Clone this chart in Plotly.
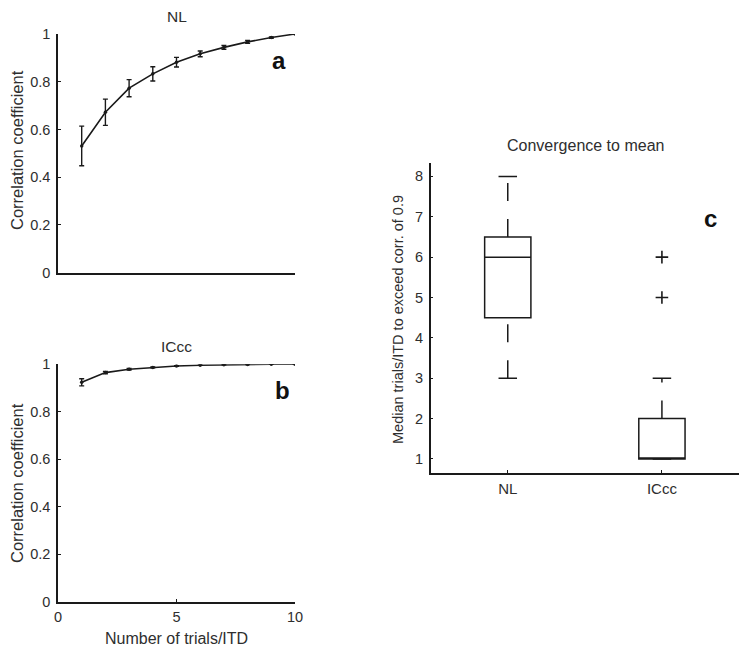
import plotly.graph_objects as go

# ---- data ----
trials = [1, 2, 3, 4, 5, 6, 7, 8, 9, 10]
nl_mean = [0.531, 0.672, 0.773, 0.833, 0.882, 0.917, 0.944, 0.967, 0.985, 1.0]
nl_err = [0.083, 0.055, 0.036, 0.030, 0.020, 0.012, 0.008, 0.006, 0.003, 0.0]
iccc_mean = [0.924, 0.965, 0.979, 0.987, 0.993, 0.996, 0.998, 0.999, 1.0, 1.0]
iccc_err = [0.015, 0.005, 0.003, 0.002, 0.001, 0.0, 0.0, 0.0, 0.0, 0.0]

corr_ticks = [0, 0.2, 0.4, 0.6, 0.8, 1]
corr_ticktext = ["0", "0.2", "0.4", "0.6", "0.8", "1"]
trial_ticks = [0, 5, 10]

box_cats = ["NL", "ICcc"]
box_pos = [1, 2]
box_q1 = [4.5, 1.0]
box_med = [6.0, 1.0]
box_q3 = [6.5, 2.0]
box_lo = [3.0, 1.0]
box_hi = [8.0, 3.0]
outlier_cat = [2, 2]
outlier_val = [5.0, 6.0]
median_ticks = [1, 2, 3, 4, 5, 6, 7, 8]

FONT = "Liberation Sans, Arial, Helvetica, sans-serif"
TXT = "#2e2e2e"
LINE = "#1a1a1a"
W, H = 750, 650


def px_x(p):
    return p / W


def px_y(p):
    return 1 - p / H


fig = go.Figure()

# panel a
fig.add_trace(go.Scatter(
    x=trials, y=nl_mean, mode="lines+markers",
    line=dict(color=LINE, width=1.6), marker=dict(size=3.5, color=LINE),
    error_y=dict(type="data", array=nl_err, color=LINE, thickness=1.4, width=2.5),
    xaxis="x", yaxis="y", showlegend=False))

# panel b
fig.add_trace(go.Scatter(
    x=trials, y=iccc_mean, mode="lines+markers",
    line=dict(color=LINE, width=1.6), marker=dict(size=3.5, color=LINE),
    error_y=dict(type="data", array=iccc_err, color=LINE, thickness=1.4, width=2.5),
    xaxis="x2", yaxis="y2", showlegend=False))

# panel c: boxes (quartiles + median), whiskers drawn dashed separately
for i in range(len(box_cats)):
    fig.add_trace(go.Box(
        x=[box_pos[i]], q1=[box_q1[i]], median=[box_med[i]], q3=[box_q3[i]],
        lowerfence=[box_q1[i]], upperfence=[box_q3[i]],
        width=0.3, whiskerwidth=0, boxpoints=False,
        line=dict(color=LINE, width=1.5), fillcolor="rgba(0,0,0,0)",
        xaxis="x3", yaxis="y3", showlegend=False, hoverinfo="skip"))
    fig.add_trace(go.Scatter(
        x=[box_pos[i], box_pos[i]], y=[box_lo[i], box_q1[i]], mode="lines",
        line=dict(color=LINE, width=1.5, dash="18px,18px"),
        xaxis="x3", yaxis="y3", showlegend=False, hoverinfo="skip"))
    fig.add_trace(go.Scatter(
        x=[box_pos[i], box_pos[i]], y=[box_q3[i], box_hi[i]], mode="lines",
        line=dict(color=LINE, width=1.5, dash="18px,18px"),
        xaxis="x3", yaxis="y3", showlegend=False, hoverinfo="skip"))
    for v in (box_lo[i], box_hi[i]):
        fig.add_trace(go.Scatter(
            x=[box_pos[i] - 0.06, box_pos[i] + 0.06], y=[v, v], mode="lines",
            line=dict(color=LINE, width=1.5),
            xaxis="x3", yaxis="y3", showlegend=False, hoverinfo="skip"))

fig.add_trace(go.Scatter(
    x=outlier_cat, y=outlier_val, mode="markers",
    marker=dict(symbol="cross-thin", size=9, line=dict(color=LINE, width=1.6)),
    xaxis="x3", yaxis="y3", showlegend=False))


def ax(size=14.5, ticks="inside", **kw):
    d = dict(showline=True, linecolor=LINE, linewidth=1.5, showgrid=False, zeroline=False,
             ticks=ticks, ticklen=3, tickwidth=1, tickcolor=LINE, automargin=False,
             tickfont=dict(family=FONT, size=size, color=TXT))
    d.update(kw)
    return d


fig.update_layout(
    width=W, height=H, plot_bgcolor="white", paper_bgcolor="white",
    margin=dict(l=0, r=0, t=0, b=0, pad=0),
    font=dict(family=FONT, color=TXT),
    xaxis=ax(domain=[px_x(58), px_x(295)], range=[0, 10], anchor="y",
             showticklabels=False, ticks=""),
    yaxis=ax(domain=[px_y(272.7), px_y(34)], range=[0, 1], anchor="x",
             tickvals=corr_ticks, ticktext=corr_ticktext, ticklabelstandoff=3),
    xaxis2=ax(domain=[px_x(58), px_x(295)], range=[0, 10], anchor="y2",
              tickvals=trial_ticks, ticklabelstandoff=1),
    yaxis2=ax(domain=[px_y(601.7), px_y(364.3)], range=[0, 1], anchor="x2",
              tickvals=corr_ticks, ticktext=corr_ticktext, ticklabelstandoff=3),
    xaxis3=ax(size=15, domain=[px_x(430.7), px_x(739)], range=[0.5, 2.5], anchor="y3",
              tickvals=box_pos, ticktext=box_cats, ticklabelstandoff=2),
    yaxis3=ax(domain=[px_y(472.7), px_y(162.7)], range=[0.66, 8.34], anchor="x3",
              tickvals=median_ticks, ticklabelstandoff=3),
)

annotations = [
    dict(text="NL", x=px_x(176.5), y=px_y(16.7), font=dict(size=15.5)),
    dict(text="ICcc", x=px_x(176.5), y=px_y(346.7), font=dict(size=15.5)),
    dict(text="Convergence to mean", x=px_x(585), y=px_y(145), font=dict(size=16)),
    dict(text="Correlation coefficient", x=px_x(17), y=px_y(150), textangle=-90, font=dict(size=16.5)),
    dict(text="Correlation coefficient", x=px_x(17), y=px_y(483), textangle=-90, font=dict(size=16.5)),
    dict(text="Number of trials/ITD", x=px_x(176.5), y=px_y(638), font=dict(size=16)),
    dict(text="Median trials/ITD to exceed corr. of 0.9", x=px_x(398), y=px_y(319), textangle=-90,
         font=dict(size=14.5)),
    dict(text="<b>a</b>", x=px_x(279), y=px_y(61), font=dict(size=24, color="#111")),
    dict(text="<b>b</b>", x=px_x(282), y=px_y(390), font=dict(size=24, color="#111")),
    dict(text="<b>c</b>", x=px_x(710), y=px_y(218), font=dict(size=24, color="#111")),
]
for a in annotations:
    a.update(xref="paper", yref="paper", showarrow=False, xanchor="center", yanchor="middle")
    a["font"].setdefault("family", FONT)
    a["font"].setdefault("color", TXT)
fig.update_layout(annotations=annotations)

fig.write_html(
    "out.html",
    config={"displayModeBar": False},
    post_script="document.body.style.margin='0';document.body.style.padding='0';"
                "document.body.style.overflow='hidden';",
)
